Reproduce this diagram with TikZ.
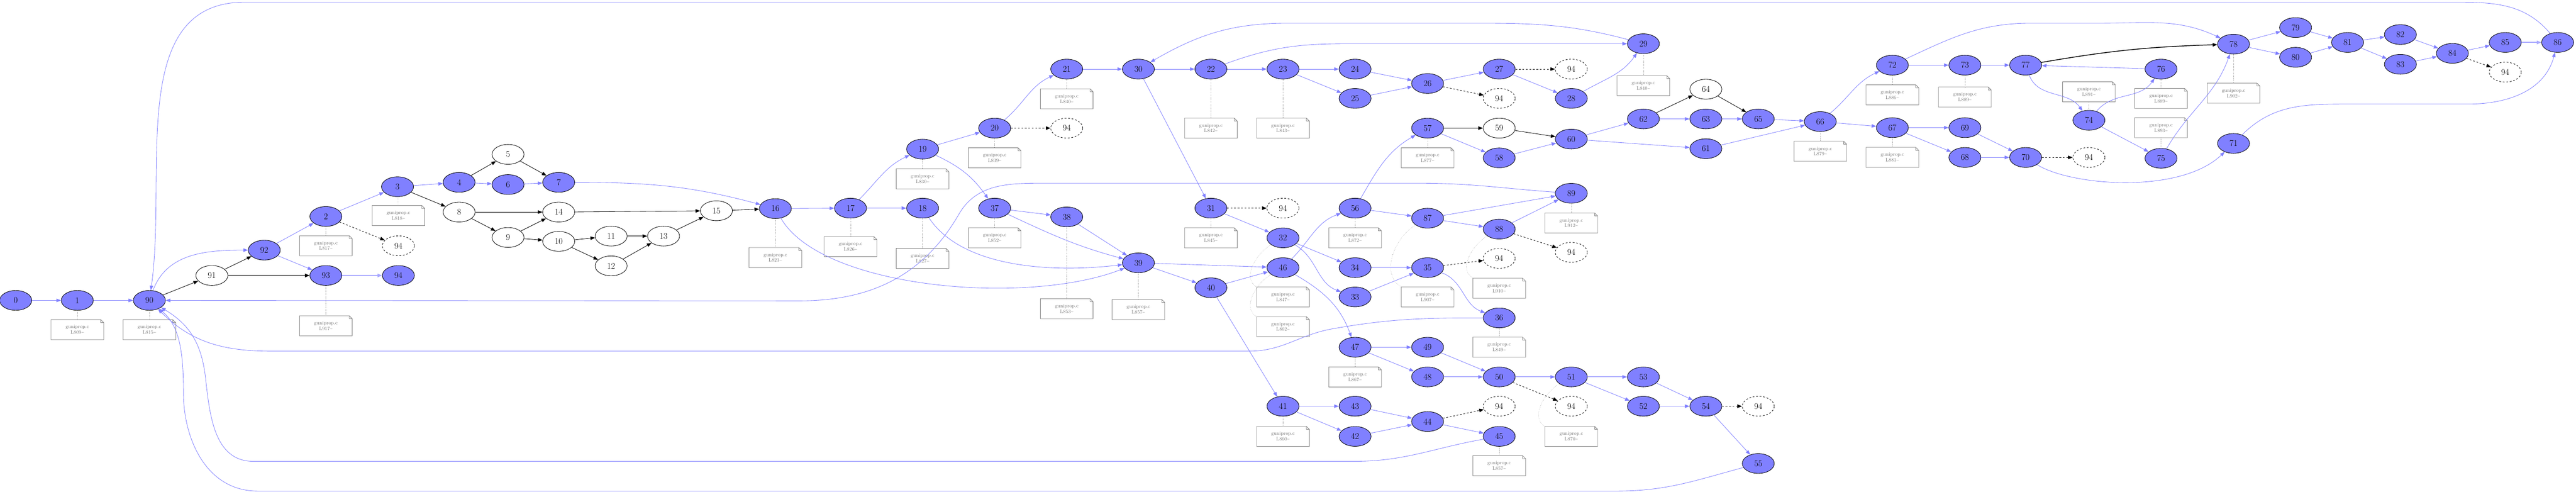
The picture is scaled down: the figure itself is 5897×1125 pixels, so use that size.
\documentclass[tikz,border=0pt]{standalone}
\usepackage{fontspec}
\usetikzlibrary{shapes.geometric,arrows.meta}
\definecolor{gb}{HTML}{8080FF}
\definecolor{gbl}{HTML}{A8A8FF}
\tikzset{
 base/.style={ellipse, draw=black, line width=0.75pt, minimum width=55pt, minimum height=34pt, inner sep=0pt, font=\fontsize{15}{15}\selectfont},
 bn/.style={base, fill=gb},
 wn/.style={base, fill=white},
 dn/.style={base, dashed, fill=white},
 note/.style={rectangle, minimum width=90pt, minimum height=34pt, inner sep=0pt, align=center, text=black!55, font=\fontsize{8.5}{9.5}\selectfont},
 tipa/.style={-{Triangle[length=8pt,width=6pt]}},
 be/.style={draw=gb, line width=0.75pt, tipa},
 ke/.style={draw=black, line width=0.75pt, tipa},
 de/.style={draw=black, dashed, line width=0.75pt, tipa},
 be2/.style={draw=gbl, line width=1.6pt, -{Triangle[length=8pt,width=6pt]}},
 ke2/.style={draw=black!60, line width=1.8pt, -{Triangle[length=8pt,width=6pt,black]}},
 dl/.style={draw=black!50, dotted, line width=0.5pt},
 nb/.style={draw=black!50, line width=0.75pt},
}
\begin{document}
\begin{tikzpicture}[x=0.75pt,y=0.75pt]
\useasboundingbox (0,0) rectangle (5897,-1125);
% blue nodes
\foreach \n/\x/\y in {0/36/687,1/177/687,90/342/687,92/605/572,93/746/630,2/746/495,3/910/427,4/1051/417,6/1163/422,7/1279/417,16/1775/477,17/1947/476,18/2112/476,19/2112/341,20/2277/293,21/2442/158,30/2606/158,37/2277/476,38/2442/496,39/2606/601,22/2772/158,23/2937/158,24/3102/158,25/3102/225,26/3268/191,27/3432/158,28/3597/225,57/3268/293,58/3432/361,60/3597/318,89/3597/442,31/2772/476,56/3102/476,87/3268/499,88/3432/524,32/2937/544,46/2937/612,34/3102/612,35/3268/612,40/2772/658,33/3102/679,36/3432/727,47/3102/794,49/3268/794,48/3268/862,50/3432/862,51/3597/862,41/2937/929,43/3102/929,42/3102/998,44/3268/964,45/3432/998,29/3762/100,62/3762/272,63/3905/272,65/4025/272,61/3905/340,66/4167/278,72/4332/149,73/4498/149,77/4637/149,67/4332/292,69/4498/292,68/4498/360,70/4637/360,53/3762/862,52/3762/929,54/3905/929,55/4025/1060,78/5113/101,79/5255/63,80/5255/131,81/5374/97,82/5495/79,83/5495/147,84/5614/122,85/5735/97,86/5855/97,76/4947/158,74/4782/275,75/4947/362,71/5113/328}
  \node[bn] (n\n) at (\x,-\y) {\n};
\node[bn] (n94a) at (912,-630) {94};
% white nodes
\foreach \n/\x/\y in {91/485/630,5/1163/353,8/1051/485,9/1163/543,14/1279/485,10/1279/552,11/1399/540,12/1399/608,13/1519/540,15/1640/482,59/3432/293,64/3905/204}
  \node[wn] (n\n) at (\x,-\y) {\n};
% dashed 94 nodes
\foreach \n/\x/\y in {1/912/562,2/2442/293,3/3597/158,4/3432/225,5/2937/476,6/3597/577,7/3432/591,8/3597/929,9/3432/929,10/4025/929,11/4782/360,12/5735/165}
  \node[dn] (d\n) at (\x,-\y) {94};
% notes
\foreach \n/\x/\y/\l in {1/177/754/809,90/342/754/815,2/746/562/817,3/912/493/818,93/746/745/917,16/1775/589/821,17/1947/564/826,18/2112/591/827,19/2112/409/830,20/2277/361/839,21/2442/226/840,37/2277/544/852,38/2442/706/853,39/2606/708/857,22/2772/293/842,23/2937/293/843,57/3268/361/877,31/2772/544/845,56/3102/544/872,89/3597/510/912,32/2937/679/847,46/2937/747/862,87/3268/679/907,88/3432/659/910,36/3432/794/849,47/3102/862/867,41/2937/998/860,45/3432/1065/857,51/3597/998/870,29/3762/196/840,66/4167/346/879,72/4332/217/886,73/4498/222/889,67/4332/360/881,74/4782/210/891,76/4947/225/889,75/4947/292/893,78/5113/213/902}
{
  \node[note] (m\n) at (\x,-\y) {guniprop.c\\L\l\textasciitilde};
  \draw[nb] (m\n.south west) -- (m\n.south east) -- ([yshift=-5pt]m\n.north east) -- ([xshift=-5pt]m\n.north east) -- (m\n.north west) -- cycle
    ([xshift=-5pt]m\n.north east) |- ([yshift=-5pt]m\n.north east);
}
% dotted links
\foreach \n in {1,90,2,3,93,16,17,18,19,20,21,37,38,39,22,23,57,31,56,89,36,47,41,45,29,66,72,73,67,74,76,75,78}
  \draw[dl] (n\n) -- (m\n);
\foreach \n in {32,46,87,88,51}
  \draw[dl] (n\n) to[out=210,in=150] (m\n.north west);
% straight blue edges
\foreach \a/\b in {0/1,1/90,92/2,92/93,2/3,3/4,4/6,6/7,16/17,17/18,19/20,21/30,37/38,38/39,39/46,39/40,30/22,30/31,22/23,23/24,23/25,24/26,25/26,26/27,27/28,57/58,58/60,60/62,60/61,56/87,87/89,87/88,88/89,31/32,32/34,34/35,33/35,40/46,40/41,47/49,47/48,49/50,48/50,50/51,51/53,51/52,41/43,41/42,43/44,42/44,44/45,62/63,63/65,65/66,61/66,66/67,72/73,73/77,67/69,67/68,69/70,68/70,76/77,74/75,78/79,78/80,79/81,80/81,81/82,81/83,82/84,83/84,84/85,53/54,52/54,54/55}
  \draw[be] (n\a) -- (n\b);
% straight black edges
\foreach \a/\b in {90/91,91/92,3/8,4/5,5/7,8/14,8/9,9/14,9/10,10/11,10/12,11/13,12/13,13/15,14/15,15/16,57/59,59/60,62/64,64/65}
  \draw[ke] (n\a) -- (n\b);
\draw[ke, line width=1.3pt] (n77) to[bend left=4] (n78);
\draw[ke2] (n91) -- (n93);
\draw[be2] (n93) -- (n94a);
\draw[be2] (n85) -- (n86);
% dashed edges
\foreach \a/\b in {2/1,20/2,27/3,26/4,31/5,88/6,35/7,50/8,44/9,54/10,70/11,84/12}
  \draw[de] (n\a) -- (d\b);
% curved edges
\draw[be] (n90) to[out=70,in=180] (n92);
\draw[be] (n7) to[out=0,in=165] (n16);
\draw[be] (n17) to[out=45,in=205] (n19);
\draw[be] (n19) to[out=-25,in=125] (n37);
\draw[be] (n20) to[out=40,in=205] (n21);
\draw[be] (n16) .. controls (1880,-660) and (2350,-700) .. (n39);
\draw[be] (n18) .. controls (2200,-610) and (2400,-625) .. (n39);
\draw[be] (n37) to[out=-25,in=165] (n39);
\draw[be] (n29) to[out=165,in=0] (3350,-53) -- (2950,-53) to[out=180,in=30] (n30);
\draw[be] (n22) to[out=20,in=180] (3080,-100) -- (n29);
\draw[be] (n28) to[out=30,in=-125] (n29);
\draw[be] (n56) to[out=60,in=210] (n57);
\draw[be] (n89) to[out=176,in=0] (3250,-419) -- (2400,-419) to[out=180,in=60] (2195,-490) to[out=240,in=0] (1830,-688) -- (n90);
\draw[be] (n32) to[out=-30,in=160] (n33);
\draw[be] (n35) to[out=-20,in=160] (n36);
\draw[be] (n36) to[out=180,in=10] (3050,-752) to[out=190,in=0] (2860,-803) -- (620,-803) to[out=180,in=-45] (n90);
\draw[be] (n46) to[out=45,in=200] (n56);
\draw[be] (n46) to[out=-30,in=110] (n47);
\draw[be] (n45) to[out=190,in=0] (3100,-1055) -- (580,-1055) .. controls (490,-1055) and (480,-950) .. (470,-860) .. controls (460,-780) and (430,-740) .. (n90);
\draw[be] (n55) to[out=195,in=0] (3700,-1123) -- (590,-1123) .. controls (470,-1123) and (420,-1000) .. (420,-900) .. controls (420,-800) and (410,-745) .. (n90);
\draw[be] (n66) to[out=40,in=205] (n72);
\draw[be] (n72) to[out=25,in=180] (4650,-53) -- (4810,-53) to[out=0,in=155] (n78);
\draw[be] (n77) to[out=-70,in=125] (n74);
\draw[be] (n74) to[out=50,in=235] (n76);
\draw[be] (n75) to[out=60,in=-110] (n78);
\draw[be] (n86) to[out=130,in=0] (5600,-5) -- (560,-5) to[out=180,in=82] (n90);
\draw[be] (n70) .. controls (4740,-425) and (4990,-445) .. (n71);
\draw[be] (n71) to[out=45,in=180] (5370,-238) -- (5650,-238) to[out=0,in=-105] (n86);
\end{tikzpicture}
\end{document}
